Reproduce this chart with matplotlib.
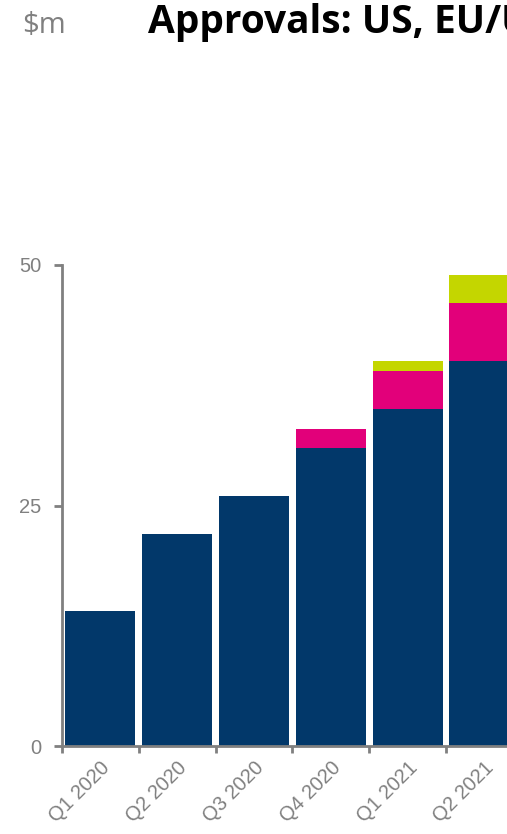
import matplotlib
matplotlib.use("Agg")
import matplotlib.pyplot as plt
import numpy as np

categories = ["Q1 2020", "Q2 2020", "Q3 2020", "Q4 2020", "Q1 2021", "Q2 2021"]
us_values = [14, 22, 26, 31, 35, 40]
eu_values = [0, 0, 0, 2, 4, 6]
other_values = [0, 0, 0, 0, 1, 3]
y_ticks = [0, 25, 50]

navy = "#02386A"
pink = "#E2007A"
green = "#C4D600"
grey = "#808080"

W, H = 507, 834
fig = plt.figure(figsize=(W / 100, H / 100), dpi=100)

left_px, right_px = 62, 507
top_px, bottom_px = 265, 746
ax = fig.add_axes([left_px / W, 1 - bottom_px / H, (right_px - left_px) / W, (bottom_px - top_px) / H])

x = np.arange(len(categories))
us = np.array(us_values)
eu = np.array(eu_values)
ot = np.array(other_values)
bw = 0.91
ax.bar(x, us, width=bw, color=navy, zorder=2)
ax.bar(x, eu, width=bw, bottom=us, color=pink, zorder=2)
ax.bar(x, ot, width=bw, bottom=us + eu, color=green, zorder=2)

ax.set_yticks(y_ticks)
ax.set_yticklabels([str(v) for v in y_ticks], fontsize=14.5, color=grey, family="Liberation Sans")
ax.set_xticks(x)
ax.set_xticklabels(categories, rotation=45, ha="right", rotation_mode="anchor",
                   fontsize=14.5, color=grey, family="Liberation Sans")
ax.tick_params(axis="x", which="major", length=0, pad=9)
ax.set_xticks(np.arange(len(categories) + 1) - 0.5, minor=True)
ax.tick_params(axis="x", which="minor", length=5, width=2, color=grey, direction="out")
ax.tick_params(axis="y", length=6, width=2, color=grey, direction="out", pad=9)

cat_px = 76.8
ax.set_xlim(-0.5, -0.5 + (right_px - left_px) / cat_px)
ax.set_ylim(0, 50)

for s in ["top", "right"]:
    ax.spines[s].set_visible(False)
for s in ["left", "bottom"]:
    ax.spines[s].set_color(grey)
    ax.spines[s].set_linewidth(2)

fig.text(22 / W, 1 - 33 / H, "$m", fontsize=21, color=grey, family="Open Sans", va="baseline", ha="left")
fig.text(148 / W, 1 - 33 / H, "Approvals: US, EU/UK", fontsize=28, fontweight="bold", color="black",
         family="Open Sans", va="baseline", ha="left")

fig.savefig("out.png", dpi=100)
